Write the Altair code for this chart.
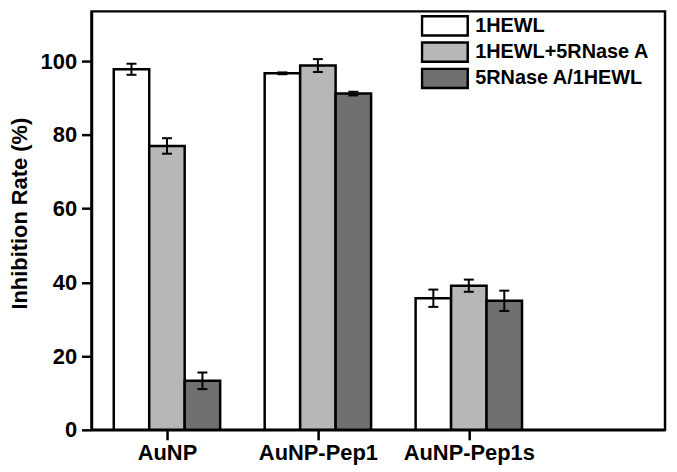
import json
import altair as alt
import pandas as pd

categories = ["AuNP", "AuNP-Pep1", "AuNP-Pep1s"]
series = ["1HEWL", "1HEWL+5RNase A", "5RNase A/1HEWL"]
hewl = [97.8, 96.7, 35.7]
hewl_err = [1.5, 0.25, 2.35]
mix = [77.0, 98.8, 39.1]
mix_err = [2.1, 1.75, 1.65]
rnase = [13.3, 91.2, 35.0]
rnase_err = [2.25, 0.5, 2.75]
colors = ["#ffffff", "#b7b7b7", "#707070"]
y_ticks = [0, 20, 40, 60, 80, 100]

values = [hewl, mix, rnase]
errors = [hewl_err, mix_err, rnase_err]
rows = []
for ci, c in enumerate(categories):
    for si, s in enumerate(series):
        rows.append(dict(category=c, series=s, cat_idx=ci + 1, ser_idx=si,
                         value=values[si][ci], err=errors[si][ci]))
df = pd.DataFrame(rows)

FONT = "Liberation Sans"
xs = alt.Scale(domain=[0.5, 4.3], nice=False, zero=False)
ys = alt.Scale(domain=[0, 113.5], nice=False)
label_expr = json.dumps([""] + categories) + "[datum.value]"
xaxis = alt.Axis(values=[1, 2, 3], labelExpr=label_expr, title=None,
                 labelPadding=3)
yaxis = alt.Axis(values=y_ticks, title="Inhibition Rate (%)", labelPadding=5,
                 titleAngle=-90, titleX=-65, titleY=203, titleFontSize=22,
                 titleAlign="center", titleBaseline="alphabetic")

base = alt.Chart(df).transform_calculate(
    center="datum.cat_idx + (datum.ser_idx - 1) * 0.235",
).transform_calculate(
    left="datum.center - 0.1175",
    right="datum.center + 0.1175",
    lo="datum.value - datum.err",
    hi="datum.value + datum.err",
    capl="datum.center - 0.033",
    capr="datum.center + 0.033",
)

bars = base.mark_bar(stroke="black", strokeWidth=2.5).encode(
    x=alt.X("left:Q", scale=xs, axis=xaxis),
    x2="right:Q",
    y=alt.Y("value:Q", scale=ys, axis=yaxis),
    y2=alt.datum(0),
    fill=alt.Fill("series:N", scale=alt.Scale(domain=series, range=colors),
                  legend=alt.Legend(
                      orient="none", legendX=331, legendY=2.5, title=None,
                      symbolType="M-1,-0.42H1V0.42H-1Z", symbolSize=2116,
                      symbolStrokeColor="black", symbolStrokeWidth=2.5,
                      labelFont=FONT, labelFontSize=20, labelFontWeight="bold",
                      labelColor="black", labelLimit=0, clipHeight=24,
                      rowPadding=2.5, padding=0, labelOffset=6,
                      symbolOffset=0)),
)

err_v = base.mark_rule(color="black", strokeWidth=2).encode(
    x=alt.X("center:Q", scale=xs, axis=xaxis),
    y=alt.Y("lo:Q", scale=ys, axis=yaxis),
    y2="hi:Q",
)
cap_hi = base.mark_rule(color="black", strokeWidth=2).encode(
    x=alt.X("capl:Q", scale=xs, axis=xaxis),
    x2="capr:Q",
    y=alt.Y("hi:Q", scale=ys, axis=yaxis),
)
cap_lo = base.mark_rule(color="black", strokeWidth=2).encode(
    x=alt.X("capl:Q", scale=xs, axis=xaxis),
    x2="capr:Q",
    y=alt.Y("lo:Q", scale=ys, axis=yaxis),
)

chart = alt.layer(bars, err_v, cap_hi, cap_lo).properties(
    width=577, height=421,
    autosize="none",
    padding={"left": 84, "top": 2, "right": 4, "bottom": 40},
    background="white",
).configure_view(
    stroke="black", strokeWidth=2.5,
).configure_axis(
    domainColor="black", domainWidth=2.5,
    tickColor="black", tickWidth=2.5, tickSize=10,
    labelFont=FONT, labelFontSize=22, labelFontWeight="bold", labelColor="black",
    titleFont=FONT, titleFontSize=22, titleFontWeight="bold", titleColor="black",
    grid=False,
)

chart.save("out.html", embed_options={"renderer": "svg", "actions": False})
